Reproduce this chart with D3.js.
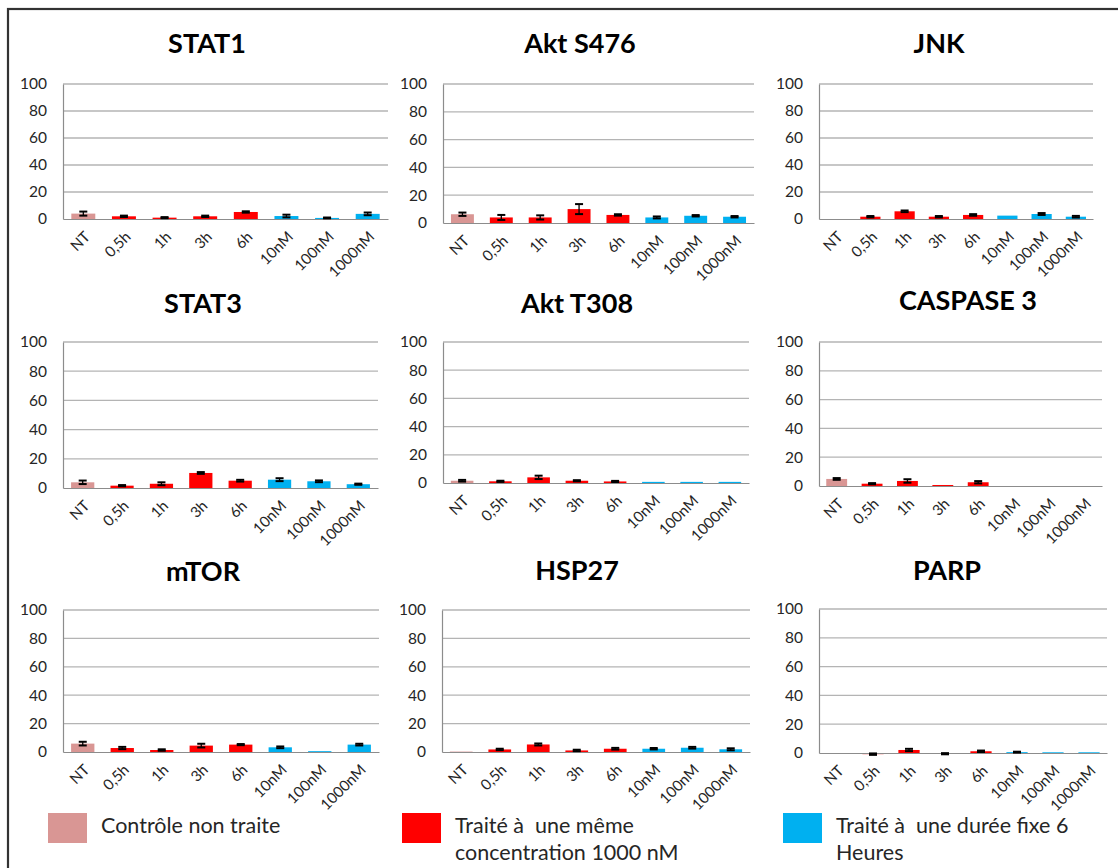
<!DOCTYPE html>
<html>
<head>
<meta charset="utf-8">
<script src="https://cdn.jsdelivr.net/npm/d3@7"></script>
<style>
  body { margin: 0; background: #fff; }
  svg { display: block; font-family: Lato, "Open Sans", sans-serif; }
  text { white-space: pre; }
</style>
</head>
<body>
<svg id="chart" width="1118" height="868"></svg>
<script>
// categories shared by all nine panels
var categories = ['NT', '0,5h', '1h', '3h', '6h', '10nM', '100nM', '1000nM'];
var groups = ['ctrl', 'time', 'time', 'time', 'time', 'dose', 'dose', 'dose'];
var yTicks = [0, 20, 40, 60, 80, 100];

var panelNames = ['STAT1', 'Akt S476', 'JNK', 'STAT3', 'Akt T308', 'CASPASE 3', 'mTOR', 'HSP27', 'PARP'];

var stat1 = [4, 2, 1, 2, 5.2, 2.2, 0.8, 3.8];
var stat1Err = [1.5, 0.5, 0.4, 0.5, 0.5, 1, 0.3, 1];
var aktS476 = [6.3, 4, 4, 10, 5.8, 4, 5.2, 4.5];
var aktS476Err = [1.2, 1.8, 1.5, 3.6, 0.5, 0.7, 0.5, 0.5];
var jnk = [0, 1.7, 5.7, 1.7, 3, 2.5, 3.7, 1.7];
var jnkErr = [0, 0.5, 0.6, 0.5, 0.6, 0, 0.7, 0.6];
var stat3 = [3.9, 1.6, 2.9, 10.3, 5, 5.7, 4.6, 2.6];
var stat3Err = [1.2, 0.4, 1, 0.6, 0.6, 1, 0.6, 0.4];
var aktT308 = [1.6, 1.2, 4, 1.6, 1.1, 0.8, 0.8, 0.8];
var aktT308Err = [0.6, 0.4, 1.2, 0.4, 0.4, 0, 0, 0];
var caspase3 = [4.9, 1.6, 3.5, 0.7, 2.6, -0.5, -0.5, -0.5];
var caspase3Err = [0.6, 0.4, 1.2, 0, 0.8, 0, 0, 0];
var mtor = [5.9, 2.8, 1.4, 4.5, 5.2, 3.3, 0.6, 5.2];
var mtorErr = [1.3, 0.8, 0.5, 1.3, 0.4, 0.6, 0, 0.6];
var hsp27 = [0.3, 1.8, 5.3, 1.1, 2.3, 2.3, 3, 1.9];
var hsp27Err = [0, 0.5, 0.7, 0.5, 0.6, 0.5, 0.6, 0.7];
var parp = [0, -0.8, 2.1, -0.5, 1.2, 0.6, 0.5, 0.5];
var parpErr = [0, 0.5, 0.8, 0.4, 0.5, 0.3, 0, 0];

var legendLabels = [['Contrôle non traite'], ['Traité à  une même', 'concentration 1000 nM'], ['Traité à  une durée fixe 6', 'Heures']];

var values = [stat1, aktS476, jnk, stat3, aktT308, caspase3, mtor, hsp27, parp];
var errors = [stat1Err, aktS476Err, jnkErr, stat3Err, aktT308Err, caspase3Err, mtorErr, hsp27Err, parpErr];

var colors = { ctrl: '#D99694', time: '#FF0000', dose: '#00B0F0' };

// where each panel sits on the page
var layout = [
    { l: 63, r: 388, t: 84, z: 219, tx: 207, ty: 53 },
    { l: 443, r: 754, t: 84, z: 223, tx: 580, ty: 53 },
    { l: 819, r: 1093, t: 84, z: 219, tx: 939, ty: 53 },
    { l: 63, r: 378, t: 342, z: 488, tx: 203, ty: 313 },
    { l: 443, r: 749, t: 342, z: 483, tx: 577, ty: 313 },
    { l: 819, r: 1102, t: 342, z: 486, tx: 968, ty: 310 },
    { l: 63, r: 379, t: 610, z: 752, tx: 203, ty: 581 },
    { l: 442, r: 750, t: 610, z: 752, tx: 577, ty: 580 },
    { l: 819, r: 1107, t: 609, z: 753, tx: 947, ty: 580 }
];

var svg = d3.select('#chart');

svg.append('rect')
    .attr('x', 8).attr('y', 9)
    .attr('width', 1130).attr('height', 880)
    .attr('fill', 'none')
    .attr('stroke', '#333')
    .attr('stroke-width', 2.2);

panelNames.forEach(function (name, i) {
    var p = layout[i];
    var g = svg.append('g');

    var x = d3.scaleBand().domain(categories).range([p.l, p.r])
        .paddingInner(0.41).paddingOuter(0.205);
    var y = d3.scaleLinear().domain([0, 100]).range([p.z, p.t]);

    g.append('text')
        .attr('x', p.tx).attr('y', p.ty)
        .attr('text-anchor', 'middle')
        .attr('font-size', 27).attr('font-weight', 'bold')
        .attr('fill', '#000')
        .text(name);

    // grid
    g.selectAll('line.grid').data(yTicks.slice(1)).enter().append('line')
        .attr('class', 'grid')
        .attr('x1', p.l).attr('x2', p.r)
        .attr('y1', function (d) { return y(d); })
        .attr('y2', function (d) { return y(d); })
        .attr('stroke', '#b4b4b4').attr('stroke-width', 1.3);

    var ya = g.append('g').attr('transform', 'translate(' + p.l + ',0)')
        .call(d3.axisLeft(y).tickValues(yTicks).tickSize(0).tickPadding(16));
    ya.select('.domain').attr('stroke', '#8c8c8c').attr('stroke-width', 1.2);
    ya.selectAll('text').attr('font-size', 15.5).attr('fill', '#262626')
        .attr('font-family', 'Lato, sans-serif');

    // bars
    var data = categories.map(function (c, k) {
        return { cat: c, grp: groups[k], v: values[i][k], e: errors[i][k] };
    });
    g.selectAll('rect.bar').data(data).enter().append('rect')
        .attr('class', 'bar')
        .attr('x', function (d) { return x(d.cat); })
        .attr('width', x.bandwidth())
        .attr('y', function (d) { return y(Math.max(0, d.v)); })
        .attr('height', function (d) { return Math.abs(y(0) - y(d.v)); })
        .attr('fill', function (d) { return colors[d.grp]; });

    var xa = g.append('g').attr('transform', 'translate(0,' + p.z + ')')
        .call(d3.axisBottom(x).tickSize(0).tickFormat(''));
    xa.select('.domain').attr('stroke', '#8c8c8c').attr('stroke-width', 1.2);

    g.selectAll('text.xl').data(categories).enter().append('text')
        .attr('class', 'xl')
        .attr('transform', function (d) {
            return 'translate(' + (x(d) + x.bandwidth() / 2 + 4) + ',' + (p.z + 15) + ') rotate(-45)';
        })
        .attr('text-anchor', 'end')
        .attr('dy', '0.35em')
        .attr('font-size', 15).attr('fill', '#262626')
        .text(function (d) { return d; });

    // error bars
    var eb = g.selectAll('g.err').data(data.filter(function (d) { return d.e > 0; }))
        .enter().append('g').attr('class', 'err');
    eb.append('line')
        .attr('x1', function (d) { return x(d.cat) + x.bandwidth() / 2; })
        .attr('x2', function (d) { return x(d.cat) + x.bandwidth() / 2; })
        .attr('y1', function (d) { return y(d.v - d.e); })
        .attr('y2', function (d) { return y(d.v + d.e); })
        .attr('stroke', '#000').attr('stroke-width', 1.3);
    [-1, 1].forEach(function (s) {
        eb.append('line')
            .attr('x1', function (d) { return x(d.cat) + x.bandwidth() / 2 - 4; })
            .attr('x2', function (d) { return x(d.cat) + x.bandwidth() / 2 + 4; })
            .attr('y1', function (d) { return y(d.v + s * d.e); })
            .attr('y2', function (d) { return y(d.v + s * d.e); })
            .attr('stroke', '#000').attr('stroke-width', 2);
    });
});

// legend
var legendX = [48, 402, 783];
var legendColors = [colors.ctrl, colors.time, colors.dose];
legendLabels.forEach(function (lines, i) {
    svg.append('rect')
        .attr('x', legendX[i]).attr('y', 813)
        .attr('width', 39).attr('height', 30)
        .attr('fill', legendColors[i]);
    var t = svg.append('text')
        .attr('x', legendX[i] + 53).attr('y', 833)
        .attr('font-size', 21.5).attr('fill', '#262626');
    lines.forEach(function (ln, k) {
        t.append('tspan').attr('x', legendX[i] + 53).attr('dy', k ? 27 : 0).text(ln);
    });
});
</script>
</body>
</html>
